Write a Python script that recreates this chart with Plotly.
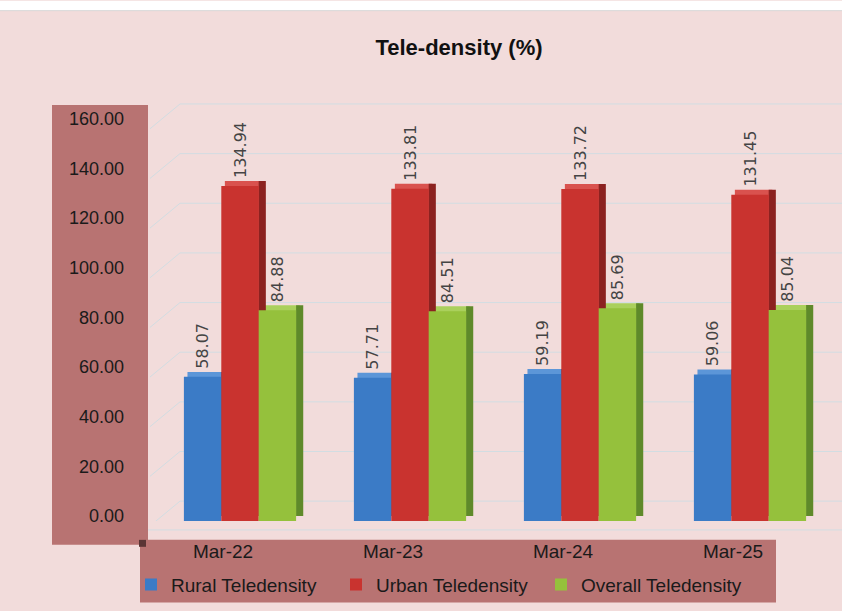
import plotly.graph_objects as go

categories = ["Mar-22", "Mar-23", "Mar-24", "Mar-25"]
rural = [58.07, 57.71, 59.19, 59.06]
urban = [134.94, 133.81, 133.72, 131.45]
overall = [84.88, 84.51, 85.69, 85.04]
series_names = ["Rural Teledensity", "Urban Teledensity", "Overall Teledensity"]
tick_vals = [0, 20, 40, 60, 80, 100, 120, 140, 160]

front_colors = ["#3B7BC6", "#C9332F", "#95C13C"]
side_colors = ["#2A5892", "#8C2220", "#5F8A2A"]
top_colors = ["#5C96D8", "#D9524E", "#AAD05C"]

W, H = 842, 611
L, R = 155, 835              # plot area left/right (px)
B = 524                      # plot bottom (px)
YMAX = 170
KPX = 2.5                    # px per unit
T = B - YMAX * KPX

def px_x(p):
    return (p - L) / (R - L)

def px_y(p):
    return (B - p) / (B - T)

FONT = "Liberation Sans, Arial, sans-serif"

fig = go.Figure()
x_idx = list(range(len(categories)))
bw = 0.22
offsets = [-0.33, -0.11, 0.11]
data = [rural, urban, overall]
DEPTH = 2.0      # 3D depth in value units (style)
DX = 0.042       # 3D depth in category units (style)

# 3D top faces (behind)
for vals, off, tc in zip(data, offsets, top_colors):
    fig.add_trace(go.Bar(
        x=x_idx, y=vals, base=DEPTH, width=bw, offset=off + DX / 2,
        marker=dict(color=tc, line=dict(width=0)),
        showlegend=False, hoverinfo="skip"))
# 3D side faces
for vals, off, sc in zip(data, offsets, side_colors):
    fig.add_trace(go.Bar(
        x=x_idx, y=vals, base=DEPTH, width=DX, offset=off + bw,
        marker=dict(color=sc, line=dict(width=0)),
        showlegend=False, hoverinfo="skip"))

# front faces
for vals, off, fc, name in zip(data, offsets, front_colors, series_names):
    fig.add_trace(go.Bar(
        x=x_idx, y=vals, width=bw, offset=off, name=name,
        marker=dict(color=fc, line=dict(width=0)),
        text=["\u00a0" + f"{v:.2f}" for v in vals], textposition="outside",
        textangle=-90, cliponaxis=False, constraintext="none",
        textfont=dict(family="DejaVu Sans, Verdana, sans-serif", size=16, color="#444444")))

shapes = []
# 3D gridlines (back wall + diagonal connector to the axis)
for v in tick_vals:
    shapes.append(dict(type="line", xref="paper", yref="y", layer="below",
                       x0=px_x(180), x1=px_x(842), y0=v + 8, y1=v + 8,
                       line=dict(color="#D2DDE2", width=1)))
    shapes.append(dict(type="line", xref="paper", yref="y", layer="below",
                       x0=px_x(150), x1=px_x(180), y0=v - 2, y1=v + 8,
                       line=dict(color="#D2DDE2", width=1)))
shapes += [
    # floor front edge
    dict(type="line", xref="paper", yref="paper", layer="below",
         x0=px_x(148), x1=px_x(842), y0=px_y(533), y1=px_y(533),
         line=dict(color="#D2DDE2", width=1)),
    # y-axis panel
    dict(type="rect", xref="paper", yref="paper", layer="below",
         x0=px_x(52), x1=px_x(148), y0=px_y(548), y1=px_y(105),
         fillcolor="#B87372", line=dict(width=0)),
    # x-axis / legend panel
    dict(type="rect", xref="paper", yref="paper", layer="below",
         x0=px_x(140), x1=px_x(776), y0=px_y(606), y1=px_y(543),
         fillcolor="#B87372", line=dict(width=0)),
    dict(type="rect", xref="paper", yref="paper", layer="below",
         x0=px_x(139), x1=px_x(146), y0=px_y(550), y1=px_y(543),
         fillcolor="#5A3535", line=dict(width=0)),
    # white strip at top
    dict(type="rect", xref="paper", yref="paper", layer="below",
         x0=px_x(0), x1=px_x(850), y0=px_y(10), y1=px_y(0),
         fillcolor="#FFFFFF", line=dict(width=0)),
    dict(type="line", xref="paper", yref="paper", layer="below",
         x0=px_x(0), x1=px_x(850), y0=px_y(10), y1=px_y(10),
         line=dict(color="#D8D8D8", width=1)),
]

fig.update_layout(
    width=W, height=H,
    margin=dict(l=L, r=W - R, t=T, b=H - B, pad=0),
    paper_bgcolor="#F2DCDB", plot_bgcolor="#F2DCDB",
    barmode="overlay",
    title=dict(text="<b>Tele-density (%)</b>", xref="container", yref="container",
               x=459 / W, y=1 - 47 / H, xanchor="center", yanchor="middle",
               font=dict(family=FONT, size=22, color="#111111")),
    xaxis=dict(tickvals=x_idx, ticktext=categories, range=[-0.5, 3.5],
               showgrid=False, zeroline=False, showline=False, ticks="",
               ticklabelstandoff=17, ticklabelshift=-17,
               tickfont=dict(family=FONT, size=19, color="#1a1a1a")),
    yaxis=dict(range=[0, YMAX], tickvals=tick_vals, tickformat=".2f",
               showgrid=False, zeroline=False, showline=False, ticks="",
               ticklabelstandoff=30, ticklabelshift=-5,
               tickfont=dict(family=FONT, size=18, color="#1a1a1a")),
    legend=dict(orientation="h", x=px_x(131), y=px_y(569), xanchor="left", yanchor="top",
                bgcolor="rgba(0,0,0,0)", entrywidth=160, entrywidthmode="pixels",
                itemwidth=30, tracegroupgap=0,
                font=dict(family=FONT, size=19, color="#1a1a1a")),
    shapes=shapes,
    showlegend=True,
)

fig.write_html(
    "out.html",
    config={"displayModeBar": False},
    post_script="document.body.style.margin='0';document.body.style.overflow='hidden';",
)
